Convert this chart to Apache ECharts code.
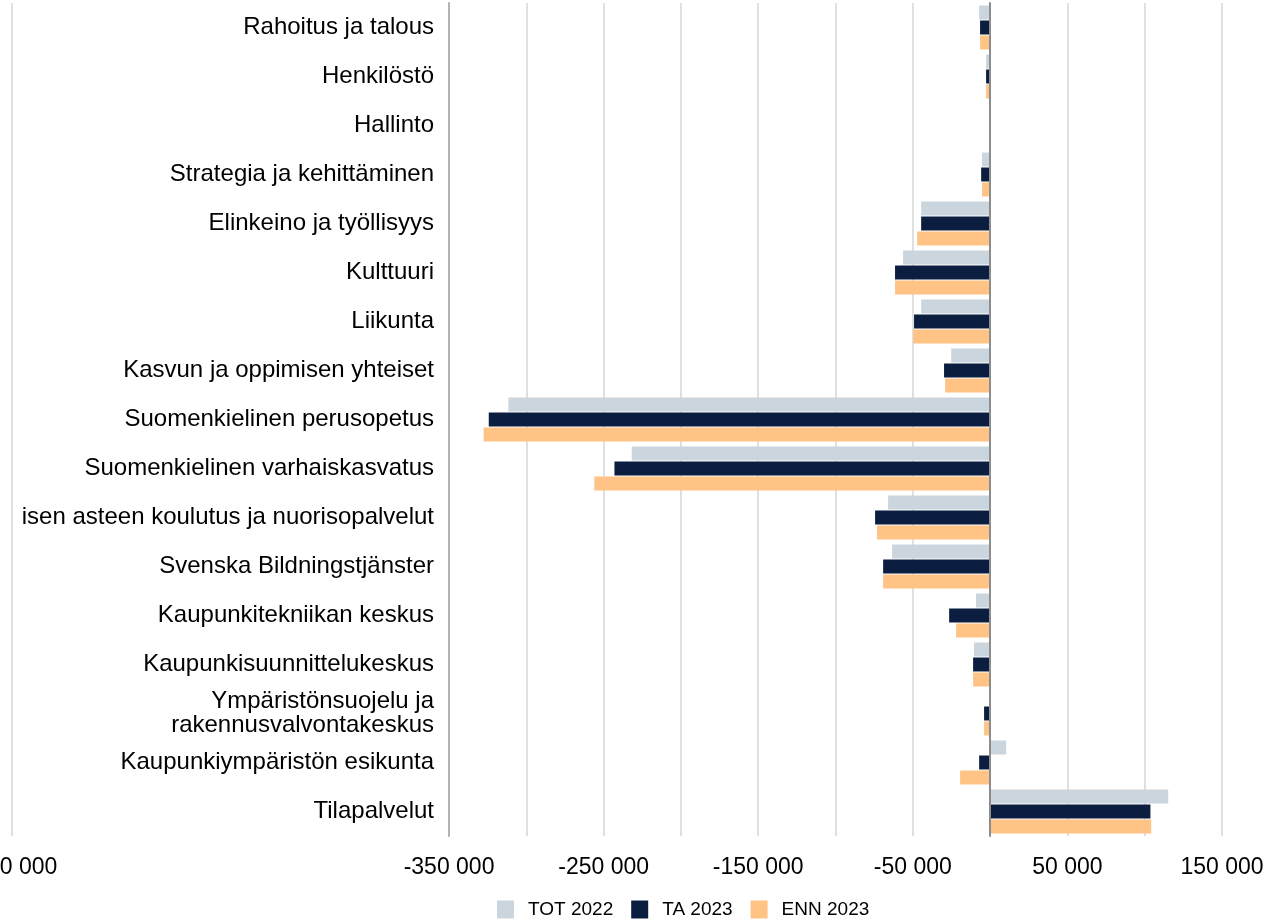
<!DOCTYPE html>
<html>
<head>
<meta charset="utf-8">
<script src="https://cdn.jsdelivr.net/npm/echarts@6/dist/echarts.min.js"></script>
<style>
  html, body { margin: 0; padding: 0; background: #fff; }
  #chart { width: 1264px; height: 923px; }
</style>
</head>
<body>
<div id="chart"></div>
<script>
const categories = [
  "Rahoitus ja talous",
  "Henkilöstö",
  "Hallinto",
  "Strategia ja kehittäminen",
  "Elinkeino ja työllisyys",
  "Kulttuuri",
  "Liikunta",
  "Kasvun ja oppimisen yhteiset",
  "Suomenkielinen perusopetus",
  "Suomenkielinen varhaiskasvatus",
  "isen asteen koulutus ja nuorisopalvelut",
  "Svenska Bildningstjänster",
  "Kaupunkitekniikan keskus",
  "Kaupunkisuunnittelukeskus",
  "Ympäristönsuojelu ja\nrakennusvalvontakeskus",
  "Kaupunkiympäristön esikunta",
  "Tilapalvelut",
];
const tot2022 = [-7100, -2600, 0, -5200, -44600, -56300, -44600, -25200, -311600, -231800, -66000, -63400, -9100, -10400, 0, 10400, 115200];
const ta2023 = [-6500, -2600, 0, -5800, -44600, -61500, -49200, -29800, -324300, -243000, -74400, -69200, -26500, -11000, -3900, -7100, 103700];
const enn2023 = [-6500, -2600, 0, -5200, -47200, -61500, -49800, -29100, -327600, -256000, -73100, -69200, -22000, -11000, -3900, -19400, 104200];

// x axis
const xMin = -632700;
const xMax = 150000;
const gridValues = [xMin, -350000, -300000, -250000, -200000, -150000, -100000, -50000, 0, 50000, 100000, 150000];
const labelValues = [xMin, -350000, -250000, -150000, -50000, 50000, 150000];
const leftLabel = "-650 000";

function fmt(v) {
  const s = String(Math.abs(Math.round(v))).replace(/\B(?=(\d{3})+(?!\d))/g, " ");
  return (v < 0 ? "-" : "") + s;
}

const chart = echarts.init(document.getElementById("chart"));
const font = "'Liberation Sans', Arial, sans-serif";

const option = {
  animation: false,
  grid: {
    left: 12,
    right: 42,
    top: 3,
    bottom: 87,
    containLabel: false,
    outerBoundsMode: "none",
  },
  legend: {
    left: 492,
    top: 895,
    itemWidth: 17,
    itemHeight: 18,
    itemGap: 18,
    icon: "rect",
    textStyle: {
      fontFamily: font,
      fontSize: 19,
      color: "#000",
      padding: [0, 0, 0, 9],
    },
    data: ["TOT 2022", "TA 2023", "ENN 2023"],
  },
  xAxis: {
    type: "value",
    min: xMin,
    max: xMax,
    axisLine: { show: false },
    axisTick: { show: false, customValues: gridValues },
    splitLine: {
      show: true,
      lineStyle: { color: "#e0e0e0", width: 2 },
    },
    axisLabel: {
      customValues: labelValues,
      margin: 20,
      fontFamily: font,
      fontSize: 23,
      color: "#000",
      formatter(v) {
        return v === xMin ? leftLabel : fmt(v);
      },
    },
  },
  yAxis: [
    {
      type: "category",
      data: categories,
      inverse: true,
      offset: -437,
      axisLine: {
        show: true,
        onZero: false,
        lineStyle: { color: "#b3b3b3", width: 2 },
      },
      axisTick: { show: false },
      axisLabel: {
        margin: 15,
        fontFamily: font,
        fontSize: 24,
        lineHeight: 24,
        color: "#000",
        align: "right",
      },
    },
    {
      type: "category",
      data: categories,
      inverse: true,
      position: "left",
      axisLine: {
        show: true,
        onZero: true,
        lineStyle: { color: "#8c8c8c", width: 2 },
      },
      axisTick: { show: false },
      axisLabel: { show: false },
      z: 5,
    },
  ],
  series: [
    {
      name: "TOT 2022",
      type: "bar",
      barWidth: 14,
      barGap: "7%",
      itemStyle: { color: "#cbd5de" },
      data: tot2022,
    },
    {
      name: "TA 2023",
      type: "bar",
      barWidth: 14,
      barGap: "7%",
      itemStyle: { color: "#0b1e3f" },
      data: ta2023,
    },
    {
      name: "ENN 2023",
      type: "bar",
      barWidth: 14,
      barGap: "7%",
      itemStyle: { color: "#ffc386" },
      data: enn2023,
    },
  ],
};

chart.setOption(option);
</script>
</body>
</html>
